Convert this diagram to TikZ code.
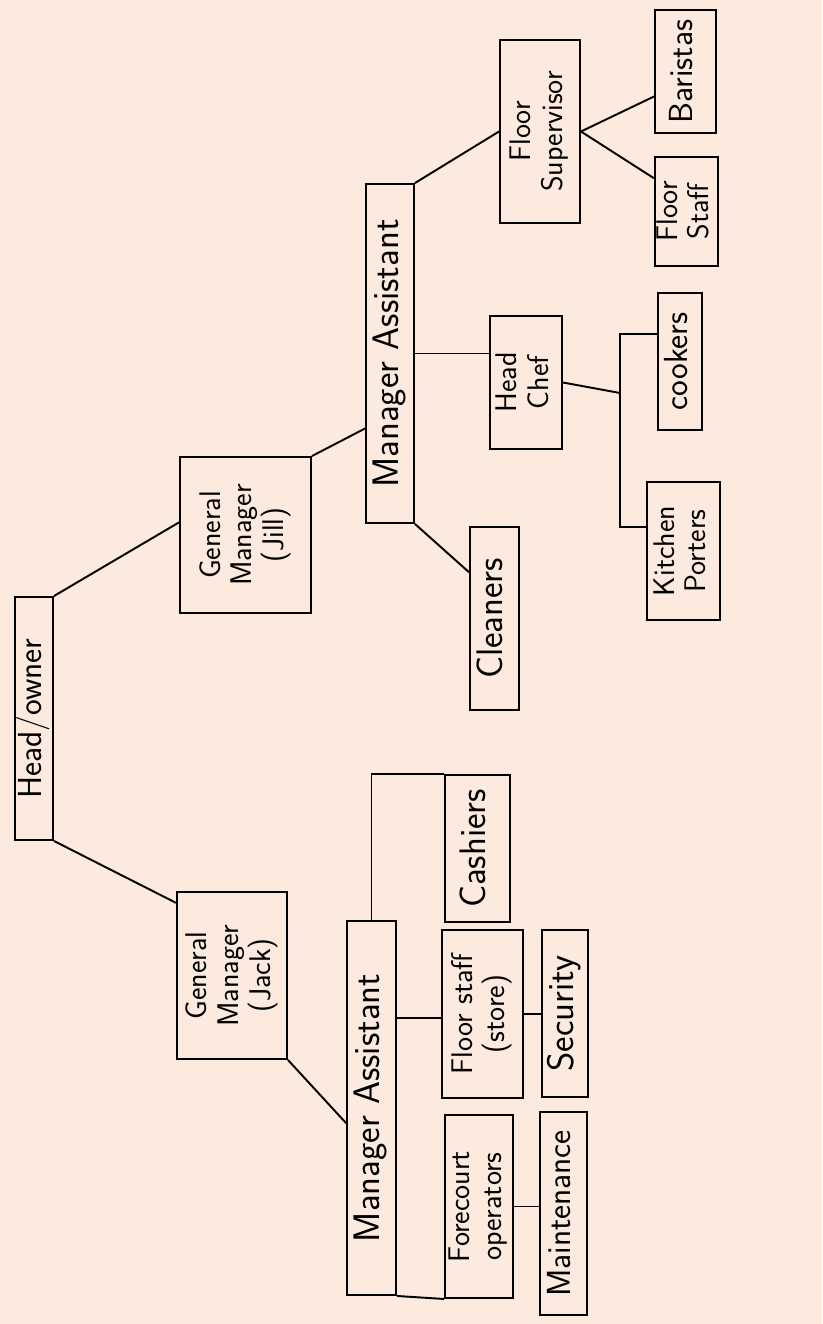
\documentclass[tikz,border=0pt]{standalone}
\usepackage{fontspec}
\usepackage{tikz}
\usetikzlibrary{calc,positioning}
\definecolor{paper}{RGB}{251,234,221}
\newcommand{\vlabel}[1]{\rotatebox{90}{\begin{tabular}{@{}c@{}}#1\end{tabular}}}
\tikzset{
	org chart/.style={
		x=0.02cm, y=-0.02cm,
		line width=1.1pt,
		every node/.style={font=\sffamily\fontsize{17}{18}\selectfont},
		},
	post/.style 2 args={draw, inner sep=0pt,
		minimum width=#1*0.02cm, minimum height=#2*0.02cm},
	one/.style={font=\sffamily\fontsize{21}{23}\selectfont},
	small one/.style={font=\sffamily\fontsize{19}{21}\selectfont},
}

\begin{document}
\begin{tikzpicture}[org chart]
	\fill[paper] (0,0) rectangle (822,1324);
	\useasboundingbox (0,0) rectangle (822,1324);
	% top two levels
	\node[post={38}{243}, small one] (head) at (34,718.5) {\vlabel{Head/owner}};
	\node[post={131}{156}] (gmjill) at (245.5,535) {\vlabel{General\\Manager\\(Jill)}};
	\node[post={110}{167}] (gmjack) at (232,975.5) {\vlabel{General\\Manager\\(Jack)}};
	% Jill's side
	\node[post={48}{339}, one] (assistJill) at (390,353.5) {\vlabel{Manager Assistant}};
	\node[post={80}{183}] (flsup) at (540,131.5) {\vlabel{Floor\\Supervisor}};
	\node[post={61}{123}, small one] (baristas) at (685.5,71.5) {\vlabel{Baristas}};
	\node[post={63}{109}] (flstaff) at (686.5,211.5) {\vlabel{Floor\\Staff}};
	\node[post={72}{133}] (hchef) at (526,382.5) {\vlabel{Head\\Chef}};
	\node[post={44}{137}, small one] (cookers) at (680,361.5) {\vlabel{cookers}};
	\node[post={73}{138}] (kporters) at (683.5,551) {\vlabel{Kitchen\\Porters}};
	\node[post={49}{183}, one] (cleaners) at (494.5,618.5) {\vlabel{Cleaners}};
	% Jack's side
	\node[post={49}{374}, one] (assistJack) at (371.5,1108) {\vlabel{Manager Assistant}};
	\node[post={65}{147}, one] (cashiers) at (477.5,848.5) {\vlabel{Cashiers}};
	\node[post={81}{168}] (flstore) at (482.5,1014) {\vlabel{Floor staff\\(store)}};
	\node[post={46}{167}, one] (security) at (565,1013.5) {\vlabel{Security}};
	\node[post={68}{183}] (forecourt) at (479,1206.5) {\vlabel{Forecourt\\operators}};
	\node[post={47}{203}, small one] (maint) at (563.5,1213.5) {\vlabel{Maintenance}};

	\draw (head.north east) -- ($(gmjill.north west)!0.42!(gmjill.south west)$);
	\draw (head.south east) -- ($(gmjack.north west)!0.07!(gmjack.south west)$);
	\draw (gmjill.north east) -- ($(assistJill.north west)!0.72!(assistJill.south west)$);
	\draw (gmjack.south east) -- ($(assistJack.north west)!0.54!(assistJack.south west)$);

	\draw (assistJill.north east) -- (flsup.west);
	\draw (assistJill.east) -- (assistJill.east -| hchef.west);
	\draw (assistJill.south east) -- ($(cleaners.north west)!0.25!(cleaners.south west)$);
	\draw (flsup.east) -- ($(baristas.north west)!0.7!(baristas.south west)$);
	\draw (flsup.east) -- ($(flstaff.north west)!0.2!(flstaff.south west)$);
	\coordinate (kitchen) at (620,393);
	\draw (hchef.east) -- (kitchen);
	\draw ($(cookers.north west)!0.3!(cookers.south west)$) -| (kitchen)
		|- ($(kporters.north west)!0.33!(kporters.south west)$);

	\draw (assistJack.north) |- (cashiers.north west);
	\coordinate (floorlink) at ($(assistJack.north east)!0.26!(assistJack.south east)$);
	\draw (floorlink) -- (floorlink -| flstore.west);
	\draw (flstore.east) -- (flstore.east -| security.west);
	\draw (forecourt.east) -- (forecourt.east -| maint.west);
	\draw (assistJack.south east) -- (forecourt.south west);
\end{tikzpicture}
\end{document}
